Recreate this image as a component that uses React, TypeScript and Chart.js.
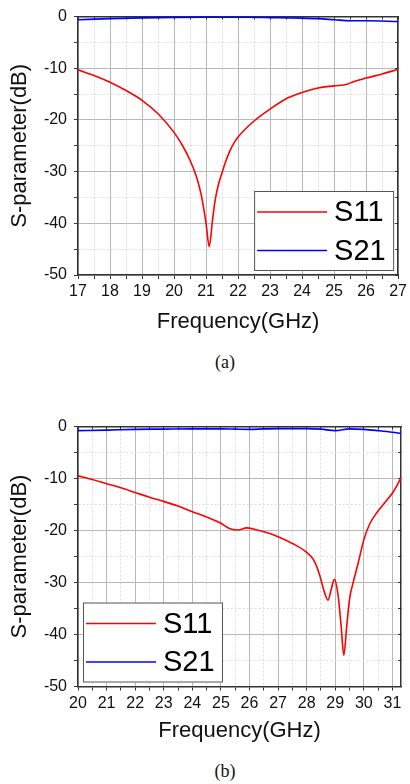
import React, { useEffect, useRef } from 'react';
import { Chart, registerables } from 'chart.js';

Chart.register(...registerables);

const FONT = '"Liberation Sans", Arial, Helvetica, sans-serif';

// ---- Panel (a) data ----
const freqA_S11 = [17.0, 17.5, 18.0, 18.5, 19.0, 19.5, 20.0, 20.25, 20.5, 20.7, 20.85, 21.0, 21.1, 21.2, 21.25, 21.3, 21.4, 21.5, 21.6, 21.75, 21.9, 22.0, 22.5, 23.0, 23.5, 24.0, 24.5, 25.0, 25.4, 25.6, 26.0, 26.5, 27.0];
const valA_S11 = [-10.3, -11.4, -12.7, -14.3, -16.2, -18.8, -22.4, -24.8, -27.8, -31.0, -34.5, -40.0, -44.5, -39.5, -37.0, -35.0, -32.2, -30.2, -28.3, -25.9, -24.2, -23.3, -20.2, -17.9, -15.9, -14.7, -13.8, -13.4, -13.1, -12.6, -11.9, -11.1, -10.2];
const freqA_S21 = [17, 18, 19, 20, 21, 22, 23, 24, 24.5, 25, 25.5, 26, 27];
const valA_S21 = [-0.6, -0.4, -0.25, -0.15, -0.1, -0.12, -0.2, -0.3, -0.4, -0.6, -0.8, -0.8, -0.95];

// ---- Panel (b) data ----
const freqB_S11 = [20.0, 20.5, 21.0, 21.5, 22.0, 22.5, 23.0, 23.5, 24.0, 24.5, 25.0, 25.3, 25.6, 25.9, 26.2, 26.6, 27.0, 27.5, 28.0, 28.25, 28.45, 28.6, 28.75, 28.85, 28.97, 29.1, 29.2, 29.3, 29.4, 29.5, 29.65, 29.8, 30.0, 30.2, 30.45, 30.8, 31.05, 31.3];
const valB_S11 = [-9.5, -10.2, -11.0, -11.8, -12.7, -13.6, -14.4, -15.3, -16.4, -17.4, -18.6, -19.6, -19.9, -19.5, -19.8, -20.4, -21.2, -22.5, -24.2, -25.7, -28.5, -31.5, -33.4, -31.5, -29.4, -32.5, -38.0, -44.0, -38.5, -33.2, -29.5, -26.3, -21.8, -18.8, -16.6, -14.2, -12.4, -9.9];
const freqB_S21 = [20, 21, 22, 23, 24, 25, 25.5, 26, 26.5, 27, 28, 28.5, 29, 29.5, 30, 30.5, 31, 31.3];
const valB_S21 = [-0.8, -0.7, -0.55, -0.5, -0.45, -0.45, -0.5, -0.55, -0.45, -0.4, -0.4, -0.5, -0.8, -0.45, -0.55, -0.8, -1.1, -1.35];

// ---- axes / labels ----
const seriesNames = ['S11', 'S21'];
const seriesColors = ['#ff0000', '#0000ff'];
const xRangeA = [17, 27];
const xRangeB = [20, 31.3];
const yRange = [-50, 0];
const xTitle = 'Frequency(GHz)';
const yTitle = 'S-parameter(dB)';

const toPts = (xs: number[], ys: number[]) => xs.map((x, i) => ({ x, y: ys[i] }));
const isMult = (v: number, step: number) => Math.abs(v / step - Math.round(v / step)) < 1e-6;

const legendBox = {
  id: 'legendBox',
  afterDatasetsDraw(chart: any, _args: any, opts: any) {
    const { ctx, chartArea } = chart;
    const w = 140, h = 80;
    const x = opts.corner === 'right' ? chartArea.right - 4 - w : chartArea.left + 5;
    const y = chartArea.bottom - 4 - h;
    ctx.save();
    ctx.fillStyle = '#ffffff';
    ctx.fillRect(x, y, w, h);
    ctx.strokeStyle = '#555555';
    ctx.lineWidth = 1;
    ctx.strokeRect(x + 0.5, y + 0.5, w - 1, h - 1);
    ctx.font = `29px ${FONT}`;
    ctx.textBaseline = 'middle';
    ctx.textAlign = 'left';
    chart.data.datasets.forEach((ds: any, i: number) => {
      const cy = y + 21 + i * 38.5;
      ctx.strokeStyle = ds.borderColor;
      ctx.lineWidth = 1.6;
      ctx.beginPath();
      ctx.moveTo(x + 3, cy);
      ctx.lineTo(x + 73, cy);
      ctx.stroke();
      ctx.fillStyle = '#000000';
      ctx.fillText(ds.label, x + 80, cy + 1);
    });
    ctx.restore();
  },
};

function makeConfig(p: {
  s11: { x: number; y: number }[];
  s21: { x: number; y: number }[];
  xr: number[];
  corner: string;
  padTop: number;
  xAxisH: number;
  titlePadB: number;
}) {
  const gridColor = (step: number) => (c: any) =>
    c.tick && isMult(c.tick.value, step) ? '#b8b8b8' : '#dcdcdc';
  const gridDash = (step: number) => (c: any) =>
    c.tick && !isMult(c.tick.value, step) ? [2, 2] : [];
  return {
    type: 'line',
    data: {
      datasets: [
        { label: seriesNames[0], data: p.s11, borderColor: seriesColors[0], backgroundColor: seriesColors[0], borderWidth: 1.6, pointRadius: 0, fill: false, cubicInterpolationMode: 'monotone', xAxisID: 'x', yAxisID: 'y' },
        { label: seriesNames[1], data: p.s21, borderColor: seriesColors[1], backgroundColor: seriesColors[1], borderWidth: 1.6, pointRadius: 0, fill: false, cubicInterpolationMode: 'monotone', xAxisID: 'x', yAxisID: 'y' },
      ],
    },
    options: {
      animation: false,
      responsive: true,
      maintainAspectRatio: false,
      events: [],
      layout: { padding: { top: p.padTop, right: 9, left: 0, bottom: 0 } },
      plugins: {
        legend: { display: false },
        tooltip: { enabled: false },
        legendBox: { corner: p.corner },
      },
      scales: {
        x: {
          type: 'linear',
          position: 'bottom',
          min: p.xr[0],
          max: p.xr[1],
          ticks: {
            stepSize: 0.5,
            autoSkip: false,
            includeBounds: false,
            maxRotation: 0,
            minRotation: 0,
            padding: 3,
            color: '#111111',
            font: { family: FONT, size: 16, lineHeight: 1.2 },
            callback: (v: number) => (isMult(v, 1) ? String(Math.round(v)) : ''),
          },
          grid: { color: gridColor(1), lineWidth: 1, tickLength: 4, tickColor: '#333333', tickWidth: 1 },
          border: { display: true, color: '#333333', width: 1.5, dash: gridDash(1) },
          title: { display: true, text: xTitle, color: '#111111', font: { family: FONT, size: 22, lineHeight: 1.2 }, padding: { top: 0, bottom: p.titlePadB } },
          afterFit: (s: any) => { s.height = p.xAxisH; },
        },
        x2: {
          type: 'linear',
          position: 'top',
          min: p.xr[0],
          max: p.xr[1],
          ticks: { display: false, stepSize: 0.5, autoSkip: false, includeBounds: false },
          grid: { drawOnChartArea: false, tickLength: -3, tickColor: '#333333' },
          border: { display: true, color: '#333333', width: 1.5 },
          afterFit: (s: any) => { s.height = 0; },
        },
        y: {
          type: 'linear',
          position: 'left',
          min: yRange[0],
          max: yRange[1],
          ticks: {
            stepSize: 5,
            autoSkip: false,
            includeBounds: false,
            padding: 7,
            color: '#111111',
            font: { family: FONT, size: 16, lineHeight: 1.2 },
            callback: (v: number) => (isMult(v, 10) ? String(Math.round(v)) : ''),
          },
          grid: { color: gridColor(10), lineWidth: 1, tickLength: 4, tickColor: '#333333', tickWidth: 1 },
          border: { display: true, color: '#333333', width: 1.5, dash: gridDash(10) },
          title: { display: true, text: yTitle, color: '#111111', font: { family: FONT, size: 22, lineHeight: 1.2 }, padding: { top: 7, bottom: 0 } },
          afterFit: (s: any) => { s.width = 78; },
        },
        y2: {
          type: 'linear',
          position: 'right',
          min: yRange[0],
          max: yRange[1],
          ticks: { display: false, stepSize: 5, autoSkip: false, includeBounds: false },
          grid: { drawOnChartArea: false, tickLength: -3, tickColor: '#333333' },
          border: { display: true, color: '#333333', width: 1.5 },
          afterFit: (s: any) => { s.width = 0; },
        },
      },
    },
    plugins: [legendBox],
  };
}

function Panel(props: { top: number; height: number; cfg: any }) {
  const ref = useRef<HTMLCanvasElement | null>(null);
  useEffect(() => {
    if (!ref.current) return;
    const chart = new Chart(ref.current, props.cfg);
    return () => chart.destroy();
  }, []);
  return (
    <div style={{ position: 'absolute', left: 0, top: props.top, width: 410, height: props.height }}>
      <canvas ref={ref} />
    </div>
  );
}

const captionStyle = (top: number): React.CSSProperties => ({
  position: 'absolute',
  left: 0,
  top,
  width: 450,
  textAlign: 'center',
  fontFamily: '"Liberation Serif", "Times New Roman", serif',
  fontSize: 18,
  lineHeight: '18px',
  color: '#111',
});

export default function App() {
  const cfgA = makeConfig({ s11: toPts(freqA_S11, valA_S11), s21: toPts(freqA_S21, valA_S21), xr: xRangeA, corner: 'right', padTop: 15, xAxisH: 65, titlePadB: 5 });
  const cfgB = makeConfig({ s11: toPts(freqB_S11, valB_S11), s21: toPts(freqB_S21, valB_S21), xr: xRangeB, corner: 'left', padTop: 26.5, xAxisH: 63.5, titlePadB: 6 });
  return (
    <div style={{ position: 'absolute', left: 0, top: 0, width: 410, height: 784, background: '#fff', overflow: 'hidden' }}>
      <Panel top={0} height={340} cfg={cfgA} />
      <div style={captionStyle(353)}>(a)</div>
      <Panel top={400} height={350} cfg={cfgB} />
      <div style={captionStyle(762)}>(b)</div>
    </div>
  );
}
